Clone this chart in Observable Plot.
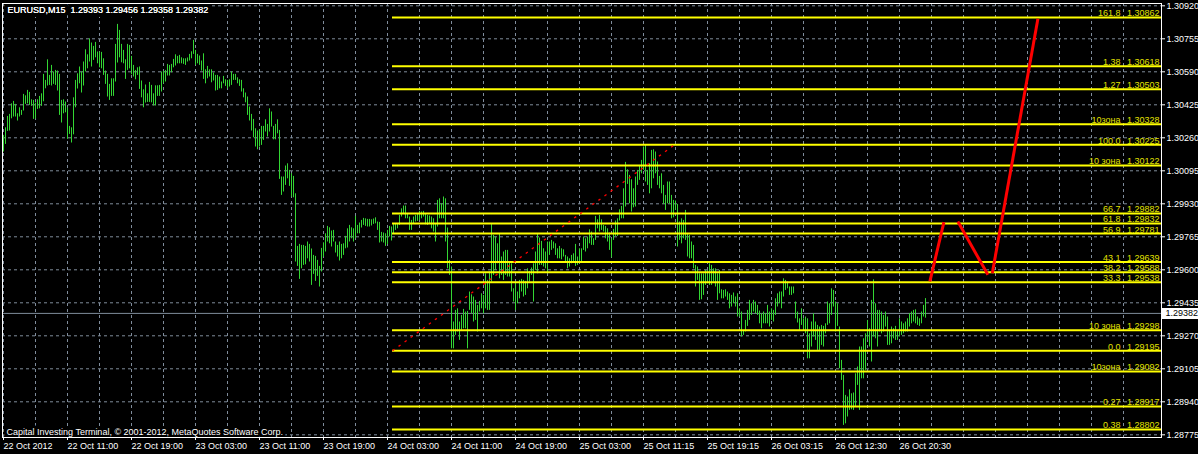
<!DOCTYPE html>
<html><head><meta charset="utf-8">
<script src="https://cdn.jsdelivr.net/npm/d3@7"></script>
<script src="https://cdn.jsdelivr.net/npm/@observablehq/plot@0.6"></script>
<style>
html,body{margin:0;padding:0;background:#000;overflow:hidden;}
#chart svg{display:block}
</style></head><body><div id="chart"></div>
<script>
const symbolTitle = "EURUSD,M15  1.29393 1.29456 1.29358 1.29382";
const copyright = "Capital Investing Terminal, \u00a9 2001-2012, MetaQuotes Software Corp.";

// M15 bars, index 0 = 22 Oct 2012 00:00
const barHigh = [
1.30272,1.30310,1.30367,1.30377,1.30430,1.30442,1.30427,1.30380,1.30410,1.30397,
1.30477,1.30470,1.30497,1.30487,1.30450,1.30447,1.30434,1.30450,1.30467,1.30480,
1.30577,1.30547,1.30650,1.30572,1.30622,1.30589,1.30597,1.30594,1.30577,1.30447,
1.30450,1.30439,1.30409,1.30317,1.30310,1.30460,1.30547,1.30580,1.30614,1.30589,
1.30639,1.30700,1.30675,1.30755,1.30734,1.30717,1.30737,1.30689,1.30689,1.30687,
1.30655,1.30594,1.30577,1.30527,1.30555,1.30555,1.30727,1.30827,1.30797,1.30727,
1.30697,1.30650,1.30727,1.30722,1.30667,1.30622,1.30597,1.30610,1.30614,1.30544,
1.30500,1.30524,1.30480,1.30537,1.30522,1.30480,1.30520,1.30520,1.30522,1.30589,
1.30592,1.30597,1.30627,1.30622,1.30627,1.30652,1.30675,1.30667,1.30672,1.30660,
1.30655,1.30655,1.30659,1.30677,1.30690,1.30747,1.30697,1.30677,1.30669,1.30644,
1.30680,1.30600,1.30617,1.30600,1.30600,1.30584,1.30572,1.30572,1.30564,1.30539,
1.30567,1.30550,1.30547,1.30550,1.30589,1.30577,1.30577,1.30560,1.30550,1.30547,
1.30505,1.30484,1.30464,1.30414,1.30377,1.30352,1.30305,1.30294,1.30300,1.30317,
1.30317,1.30350,1.30327,1.30405,1.30389,1.30317,1.30327,1.30350,1.30297,1.30064,
1.30064,1.30119,1.30130,1.30097,1.30080,1.30067,1.29980,1.29717,1.29727,1.29722,
1.29722,1.29717,1.29739,1.29727,1.29704,1.29672,1.29667,1.29647,1.29617,1.29707,
1.29735,1.29780,1.29817,1.29810,1.29794,1.29797,1.29739,1.29722,1.29739,1.29727,
1.29730,1.29767,1.29805,1.29822,1.29810,1.29805,1.29867,1.29822,1.29834,1.29847,
1.29857,1.29855,1.29852,1.29852,1.29850,1.29854,1.29860,1.29839,1.29837,1.29787,
1.29784,1.29780,1.29797,1.29817,1.29814,1.29830,1.29830,1.29830,1.29872,1.29905,
1.29919,1.29919,1.29880,1.29864,1.29847,1.29864,1.29872,1.29880,1.29892,1.29889,
1.29892,1.29880,1.29872,1.29869,1.29864,1.29855,1.29830,1.29947,1.29955,1.29930,
1.29964,1.29955,1.29809,1.29647,1.29614,1.29339,1.29397,1.29405,1.29339,1.29372,
1.29402,1.29389,1.29392,1.29489,1.29475,1.29464,1.29447,1.29422,1.29442,1.29480,
1.29472,1.29580,1.29547,1.29589,1.29830,1.29772,1.29764,1.29730,1.29780,1.29664,
1.29689,1.29697,1.29697,1.29639,1.29630,1.29505,1.29539,1.29489,1.29547,1.29552,
1.29547,1.29542,1.29605,1.29592,1.29609,1.29630,1.29689,1.29780,1.29759,1.29742,
1.29705,1.29689,1.29739,1.29739,1.29747,1.29739,1.29730,1.29705,1.29717,1.29705,
1.29700,1.29672,1.29664,1.29655,1.29672,1.29680,1.29727,1.29664,1.29705,1.29705,
1.29764,1.29755,1.29764,1.29800,1.29789,1.29755,1.29867,1.29850,1.29872,1.29850,
1.29822,1.29817,1.29805,1.29784,1.29755,1.29802,1.29844,1.29855,1.29900,1.29917,
1.30005,1.30137,1.30100,1.30072,1.30050,1.30005,1.30064,1.30097,1.30122,1.30147,
1.30214,1.30222,1.30097,1.30130,1.30197,1.30200,1.30189,1.30139,1.30067,1.30080,
1.30022,1.29972,1.30039,1.30039,1.29972,1.29947,1.29944,1.29927,1.29839,1.29855,
1.29847,1.29897,1.29780,1.29772,1.29739,1.29722,1.29622,1.29614,1.29580,1.29580,
1.29580,1.29597,1.29597,1.29630,1.29622,1.29605,1.29605,1.29580,1.29597,1.29500,
1.29497,1.29500,1.29489,1.29480,1.29472,1.29484,1.29464,1.29480,1.29405,1.29389,
1.29297,1.29347,1.29397,1.29447,1.29430,1.29447,1.29439,1.29422,1.29394,1.29380,
1.29389,1.29380,1.29422,1.29389,1.29405,1.29397,1.29455,1.29480,1.29489,1.29489,
1.29555,1.29547,1.29539,1.29514,1.29514,1.29514,1.29439,1.29389,1.29355,1.29405,
1.29355,1.29364,1.29355,1.29280,1.29339,1.29380,1.29339,1.29322,1.29314,1.29322,
1.29317,1.29330,1.29439,1.29430,1.29505,1.29497,1.29439,1.29430,1.29314,1.29147,
1.29072,1.28972,1.28964,1.29000,1.28980,1.28984,1.29080,1.29114,1.29214,1.29214,
1.29255,1.29280,1.29347,1.29305,1.29447,1.29550,1.29430,1.29397,1.29397,1.29389,
1.29372,1.29389,1.29364,1.29297,1.29314,1.29305,1.29317,1.29297,1.29355,1.29339,
1.29330,1.29339,1.29355,1.29380,1.29389,1.29397,1.29400,1.29364,1.29355,1.29389,
1.29422,1.29456];
const barLow = [
1.30189,1.30227,1.30292,1.30294,1.30355,1.30364,1.30364,1.30344,1.30364,1.30372,
1.30394,1.30427,1.30430,1.30422,1.30417,1.30352,1.30354,1.30402,1.30405,1.30417,
1.30440,1.30505,1.30519,1.30522,1.30519,1.30527,1.30522,1.30494,1.30372,1.30334,
1.30380,1.30385,1.30252,1.30277,1.30234,1.30275,1.30410,1.30504,1.30530,1.30484,
1.30519,1.30589,1.30605,1.30639,1.30614,1.30647,1.30660,1.30630,1.30610,1.30605,
1.30572,1.30527,1.30464,1.30447,1.30467,1.30467,1.30539,1.30634,1.30660,1.30635,
1.30630,1.30552,1.30597,1.30605,1.30575,1.30564,1.30550,1.30572,1.30502,1.30460,
1.30410,1.30434,1.30437,1.30437,1.30435,1.30419,1.30419,1.30467,1.30467,1.30489,
1.30530,1.30539,1.30569,1.30569,1.30585,1.30610,1.30619,1.30630,1.30630,1.30630,
1.30627,1.30622,1.30639,1.30644,1.30655,1.30677,1.30622,1.30630,1.30622,1.30594,
1.30552,1.30530,1.30555,1.30564,1.30535,1.30544,1.30494,1.30497,1.30505,1.30505,
1.30530,1.30517,1.30505,1.30514,1.30522,1.30547,1.30547,1.30530,1.30517,1.30489,
1.30460,1.30435,1.30372,1.30344,1.30294,1.30260,1.30214,1.30200,1.30214,1.30222,
1.30247,1.30289,1.30264,1.30289,1.30314,1.30250,1.30250,1.30280,1.30052,1.29972,
1.29989,1.30022,1.30055,1.30017,1.29964,1.29960,1.29639,1.29617,1.29552,1.29605,
1.29622,1.29625,1.29655,1.29639,1.29522,1.29577,1.29542,1.29567,1.29514,1.29589,
1.29664,1.29689,1.29739,1.29730,1.29714,1.29739,1.29684,1.29664,1.29644,1.29655,
1.29672,1.29705,1.29709,1.29739,1.29755,1.29739,1.29755,1.29780,1.29780,1.29809,
1.29822,1.29817,1.29814,1.29814,1.29819,1.29827,1.29830,1.29797,1.29734,1.29739,
1.29734,1.29717,1.29727,1.29764,1.29744,1.29780,1.29797,1.29805,1.29822,1.29864,
1.29880,1.29855,1.29855,1.29797,1.29797,1.29830,1.29839,1.29842,1.29847,1.29855,
1.29864,1.29825,1.29822,1.29830,1.29805,1.29789,1.29739,1.29814,1.29855,1.29855,
1.29855,1.29739,1.29605,1.29572,1.29205,1.29205,1.29272,1.29289,1.29247,1.29297,
1.29305,1.29305,1.29205,1.29397,1.29380,1.29339,1.29347,1.29289,1.29389,1.29405,
1.29380,1.29405,1.29397,1.29397,1.29539,1.29572,1.29597,1.29630,1.29555,1.29572,
1.29547,1.29572,1.29564,1.29564,1.29489,1.29439,1.29397,1.29430,1.29455,1.29489,
1.29464,1.29472,1.29505,1.29539,1.29572,1.29439,1.29597,1.29580,1.29622,1.29622,
1.29614,1.29605,1.29580,1.29672,1.29697,1.29705,1.29672,1.29655,1.29655,1.29650,
1.29664,1.29639,1.29605,1.29614,1.29630,1.29639,1.29617,1.29622,1.29630,1.29639,
1.29697,1.29689,1.29705,1.29730,1.29722,1.29722,1.29747,1.29805,1.29789,1.29797,
1.29789,1.29755,1.29739,1.29697,1.29660,1.29747,1.29767,1.29767,1.29844,1.29855,
1.29855,1.29914,1.30027,1.29930,1.29889,1.29910,1.29914,1.30022,1.30047,1.30080,
1.30097,1.30039,1.30022,1.29980,1.30005,1.30055,1.30080,1.30022,1.30005,1.29980,
1.29927,1.29897,1.29930,1.29930,1.29855,1.29860,1.29897,1.29714,1.29747,1.29730,
1.29755,1.29747,1.29664,1.29655,1.29655,1.29605,1.29514,1.29547,1.29447,1.29450,
1.29472,1.29522,1.29530,1.29522,1.29522,1.29539,1.29514,1.29447,1.29480,1.29455,
1.29455,1.29464,1.29447,1.29405,1.29414,1.29430,1.29414,1.29364,1.29364,1.29264,
1.29272,1.29289,1.29317,1.29347,1.29372,1.29389,1.29380,1.29372,1.29330,1.29305,
1.29330,1.29330,1.29330,1.29314,1.29347,1.29339,1.29372,1.29414,1.29430,1.29405,
1.29464,1.29497,1.29505,1.29472,1.29472,1.29480,1.29355,1.29334,1.29297,1.29322,
1.29297,1.29280,1.29155,1.29155,1.29214,1.29264,1.29247,1.29197,1.29197,1.29222,
1.29214,1.29280,1.29322,1.29330,1.29372,1.29414,1.29289,1.29317,1.29105,1.29047,
1.28822,1.28830,1.28864,1.28897,1.28900,1.28897,1.28914,1.29022,1.28897,1.29055,
1.29055,1.29097,1.29247,1.29214,1.29139,1.29264,1.29255,1.29214,1.29289,1.29280,
1.29289,1.29314,1.29222,1.29222,1.29230,1.29255,1.29247,1.29247,1.29264,1.29272,
1.29280,1.29289,1.29289,1.29314,1.29330,1.29339,1.29330,1.29322,1.29317,1.29330,
1.29364,1.29358];

const currentPrice = 1.29382;

const priceTicks = [1.30920,1.30755,1.30590,1.30425,1.30260,1.30095,1.29930,
  1.29765,1.29600,1.29435,1.29270,1.29105,1.28940,1.28775];

const timeTickBars = [0,32,64,96,128,160,192,224,256,288,320,352,384,416,448];
const timeTickLabels = ["22 Oct 2012","22 Oct 11:00","22 Oct 19:00","23 Oct 03:00",
  "23 Oct 11:00","23 Oct 19:00","24 Oct 03:00","24 Oct 11:00","24 Oct 19:00",
  "25 Oct 03:00","25 Oct 11:15","25 Oct 19:15","26 Oct 03:15","26 Oct 12:30","26 Oct 20:30"];

const fibNames  = ["161.8","1.38","1.27","10зона","100.0","10 зона","66.7","61.8","56.9",
  "43.1","38.2","33.3","10 зона","0.0","10зона","0.27","0.38"];
const fibPrices = [1.30862,1.30618,1.30503,1.30328,1.30225,1.30122,1.29882,1.29832,1.29781,
  1.29639,1.29588,1.29538,1.29298,1.29195,1.29092,1.28917,1.28802];

// fibo base trend line (dotted): from bar / price to bar / price
const trendBars = [194.5, 335.5];
const trendPrices = [1.29195, 1.30225];

// hand-drawn red projection segments
const zigFromBar   = [463.2, 477.2, 494.4];
const zigFromPrice = [1.29542, 1.29841, 1.29583];
const zigToBar     = [470.2, 492.2, 517.2];
const zigToPrice   = [1.29838, 1.29575, 1.30855];

// ---------------------------------------------------------------
const W = 1198, H = 454;
const lastBar = 579;          // right edge of chart window in bars
const font = "'Liberation Sans', Arial, sans-serif";
const fs = 9;
const gridColor = "#7f8c9b";
const fibColor = "#ffff00";
const fibText = "#e2e200";

const bars = barHigh.map((h, i) => ({i, h, l: barLow[i]}));
const fibs = fibNames.map((n, k) => ({name: n, price: fibPrices[k], from: trendBars[0], to: lastBar}));
const trend = [{b1: trendBars[0], p1: trendPrices[0], b2: trendBars[1], p2: trendPrices[1]}];
const zig = zigFromBar.map((b, k) => ({b1: b, p1: zigFromPrice[k], b2: zigToBar[k], p2: zigToPrice[k]}));
const gridBars = d3.range(0, lastBar - 8, 16);

const chart = Plot.plot({
  width: W, height: H,
  marginLeft: 2, marginRight: 37, marginTop: 3, marginBottom: 17,
  style: {background: "#000", fontFamily: font, fontSize: fs + "px", overflow: "visible"},
  x: {domain: [-0.5, lastBar], axis: null, label: null},
  y: {domain: [1.287615, 1.309315], axis: null, label: null},
  marks: [
    Plot.gridY(priceTicks, {stroke: gridColor, strokeOpacity: 1, strokeDasharray: "3,3"}),
    Plot.gridX(gridBars, {stroke: gridColor, strokeOpacity: 1, strokeDasharray: "3,3"}),
    Plot.ruleY([currentPrice], {stroke: gridColor, strokeOpacity: 1}),
    Plot.ruleX(bars, {x: "i", y1: "l", y2: "h", stroke: "#33d633", strokeWidth: 1}),
    Plot.ruleY(fibs, {y: "price", x1: "from", x2: "to", stroke: fibColor, strokeWidth: 2}),
    Plot.link(trend, {x1: "b1", y1: "p1", x2: "b2", y2: "p2", stroke: "#ff0000", strokeWidth: 1.3, strokeDasharray: "2.5,5"}),
    Plot.link(zig, {x1: "b1", y1: "p1", x2: "b2", y2: "p2", stroke: "#ff0000", strokeWidth: 3, strokeLinecap: "butt"}),
    Plot.text(fibs, {y: "price", text: d => d.price.toFixed(5), frameAnchor: "right", textAnchor: "end",
      lineAnchor: "bottom", dx: -2, dy: -1, fill: fibText, fontSize: fs}),
    Plot.text(fibs, {y: "price", text: "name", frameAnchor: "right", textAnchor: "end",
      lineAnchor: "bottom", dx: -41, dy: -1, fill: fibText, fontSize: fs}),
    Plot.text([symbolTitle], {frameAnchor: "top-left", textAnchor: "start", lineAnchor: "top",
      dx: 5, dy: 3, fill: "#ffffff", stroke: "#000", strokeWidth: 8, strokeLinejoin: "round", paintOrder: "stroke", fontSize: fs}),
    Plot.text([copyright], {frameAnchor: "bottom-left", textAnchor: "start", lineAnchor: "bottom",
      dx: 4, dy: -3, fill: "#ffffff", stroke: "#000", strokeWidth: 6, strokeLinejoin: "round", paintOrder: "stroke", fontSize: fs}),
    Plot.axisY(priceTicks, {anchor: "right", tickSize: 3, tickPadding: 2, tickFormat: d => d.toFixed(5),
      color: "#ffffff", fontSize: fs, label: null}),
    Plot.axisX(timeTickBars, {anchor: "bottom", tickSize: 3, tickPadding: 2,
      tickFormat: d => timeTickLabels[timeTickBars.indexOf(d)], textAnchor: "start",
      color: "#ffffff", fontSize: fs, label: null}),
    Plot.ruleY([currentPrice], {x1: lastBar + 0.5, x2: lastBar + 18.5, stroke: "#ffffff", strokeWidth: 11, clip: false}),
    Plot.text([currentPrice], {y: d => d, frameAnchor: "right", textAnchor: "start", dx: 4,
      text: d => d.toFixed(5), fill: "#000", fontSize: fs}),
    Plot.frame({stroke: "#ffffff"}),
    Plot.text([symbolTitle], {frameAnchor: "top-left", textAnchor: "start", lineAnchor: "top",
      dx: 5, dy: 3, fill: "#ffffff", fontSize: fs})
  ]
});
document.getElementById("chart").appendChild(chart);
</script>
</body></html>
